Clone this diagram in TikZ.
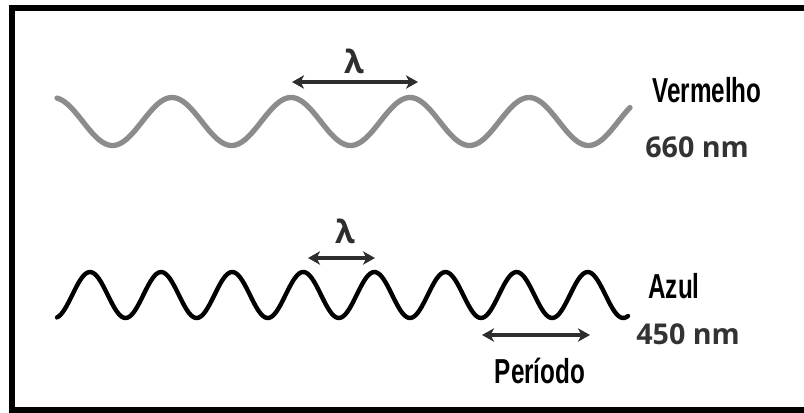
\documentclass[tikz,border=0pt]{standalone}
\usepackage{fontspec}
\setmainfont{Liberation Sans}
\newfontfamily\numfont{Open Sans}
\usepackage{tikz}
\usetikzlibrary{arrows.meta}
\definecolor{waveGray}{HTML}{8C8C8C}
\definecolor{arrowDark}{HTML}{2E2E2E}
\definecolor{nmGray}{HTML}{333333}
\tikzset{
    grayline/.style={draw=waveGray, line width=4pt, line cap=round},
    blackline/.style={draw=black, line width=3.3pt, line cap=round},
    arr/.style={{Stealth[length=9pt,width=10pt,inset=2.5pt]}-{Stealth[length=9pt,width=10pt,inset=2.5pt]}, line width=2.4pt, draw=arrowDark},
    lbl/.style={font=\fontsize{26}{30}\selectfont\bfseries, inner sep=0pt, anchor=base},
    nmlbl/.style={font=\numfont\fontsize{21.5}{24}\selectfont\bfseries, text=nmGray, inner sep=0pt, anchor=base west},
    lam/.style={font=\numfont\fontsize{24}{26}\selectfont\bfseries, text=arrowDark, inner sep=0pt, anchor=base}
}

\begin{document}
\begin{tikzpicture}[x=0.75pt, y=-0.75pt]
    \useasboundingbox (0,0) rectangle (804,412);
    % frame
    \draw[line width=4.5pt] (12,8) rectangle (830,410);

    % red light, long wavelength
    \draw[grayline] plot[domain=57:630, samples=240] (\x, {121.5-24*cos((\x-53)/119*360)});
    \coordinate (lamRedL) at (292,82);
    \coordinate (lamRedR) at (418,82);
    \draw[arr] (lamRedL) -- (lamRedR);
    \node[lam] (lamRed) at (354,73) {λ};
    \node[lbl] (verm) at (707,102) {\scalebox{0.7}[1]{Vermelho}};
    \node[nmlbl] (nmRed) at (645,157) {660 nm};

    % blue light, short wavelength
    \draw[blackline] plot[domain=57:628, samples=300] (\x, {295-23*cos((\x-90)/71.1*360)});
    \coordinate (lamBlueL) at (308,258);
    \coordinate (lamBlueR) at (375,258);
    \draw[arr] (lamBlueL) -- (lamBlueR);
    \node[lam] (lamBlue) at (345,243) {λ};
    \node[lbl] (azul) at (674,298) {\scalebox{0.7}[1]{Azul}};
    \node[nmlbl] (nmBlue) at (636,344) {450 nm};

    % period
    \coordinate (perL) at (482,335);
    \coordinate (perR) at (590,335);
    \draw[arr] (perL) -- (perR);
    \node[lbl] (periodo) at (540,383) {\scalebox{0.7}[1]{Período}};
\end{tikzpicture}
\end{document}
